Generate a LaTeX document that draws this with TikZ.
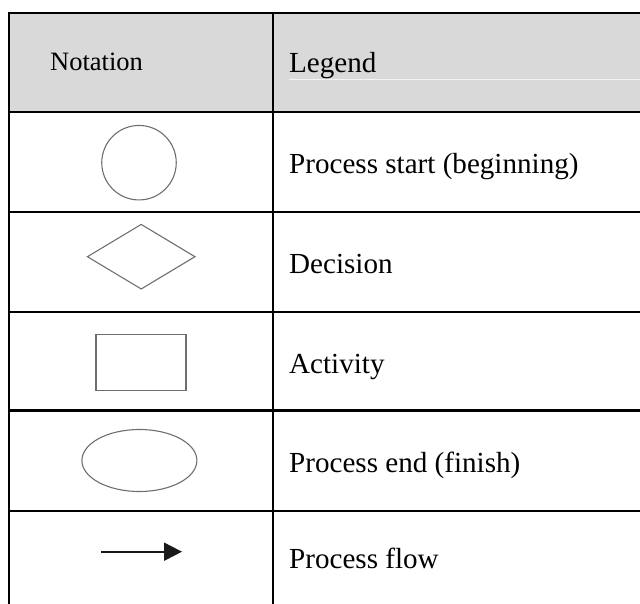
\documentclass[tikz,border=0pt]{standalone}
\usepackage{fontspec}
\setmainfont{Liberation Serif}
\usetikzlibrary{shapes.geometric,arrows.meta}
\definecolor{headgray}{HTML}{D9D9D9}
\definecolor{shapegray}{HTML}{6E6E6E}
\begin{document}
\begin{tikzpicture}[x=1pt,y=-1pt,
  grid/.style={line width=2.2pt,black},
  shp/.style={draw=shapegray,line width=1.1pt,inner sep=0pt},
  legtext/.style={anchor=base west,inner sep=0pt,font=\fontsize{29.1}{31}\selectfont},
  headtext/.style={anchor=base west,inner sep=0pt,font=\fontsize{26.5}{28}\selectfont}]
\useasboundingbox (0,0) rectangle (640,604);
% header background
\fill[headgray] (8.7,13.3) rectangle (640,111.7);
\draw[white!70!headgray,line width=0.6pt] (289,79.5) -- (640,79.5);
% grid
\draw[grid] (8.7,13.3) -- (8.7,604);
\draw[grid] (273.3,13.3) -- (273.3,604);
\foreach \yy in {13.3,111.7,211.7,311.7,410.5,511}{
  \draw[grid] (7.6,\yy) -- (640,\yy);
}
% header texts
\node[headtext] (hnot) at (50,71) {Notation};
\node[legtext] (hleg) at (289,72.3) {Legend};
% shapes
\node[shp,circle,minimum size=74.5pt] (start) at (139,162.7) {};
\node[shp,diamond,minimum width=108pt,minimum height=65pt] (dec) at (141.2,256.7) {};
\node[shp,rectangle,minimum width=90pt,minimum height=56pt] (act) at (141,362.2) {};
\node[shp,ellipse,minimum width=115pt,minimum height=62pt] (fin) at (139.4,460.5) {};
\coordinate (fa) at (101,551.7);
\coordinate (fb) at (182,551.7);
\draw[line width=2pt,color=black!90,-{Triangle[length=18pt,width=18pt]}] (fa) -- (fb);
% legend texts
\node[legtext] (lstart) at (289,173.3) {Process start (beginning)};
\node[legtext] (ldec) at (289,273.5) {Decision};
\node[legtext] (lact) at (289,373) {Activity};
\node[legtext] (lfin) at (289,472.3) {Process end (finish)};
\node[legtext] (lflow) at (289,568.3) {Process flow};
\end{tikzpicture}
\end{document}
